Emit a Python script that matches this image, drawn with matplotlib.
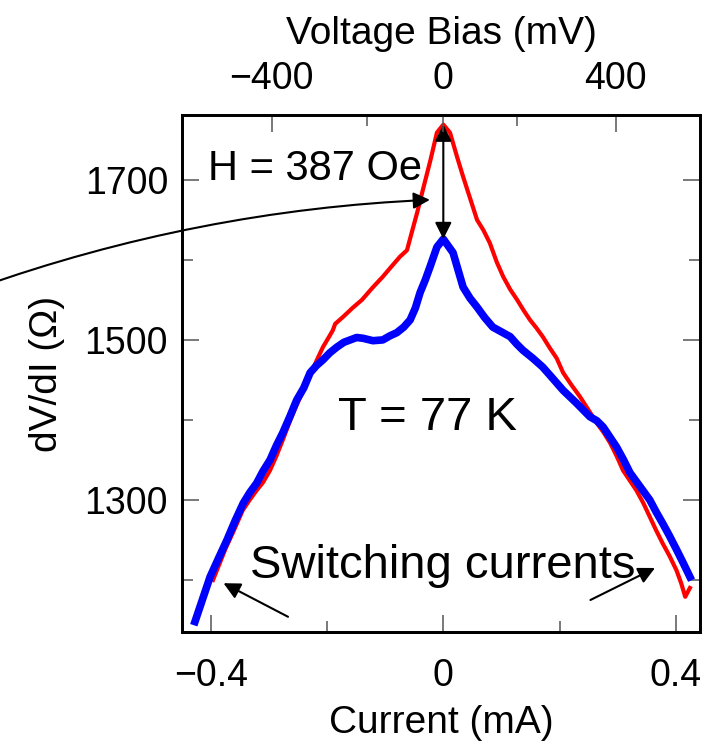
import matplotlib
matplotlib.use("Agg")
import matplotlib.pyplot as plt
from matplotlib.ticker import FixedLocator

plt.rcParams['font.family'] = ['Liberation Sans', 'DejaVu Sans']

# dV/dI traces vs. bias current (mA -> Ohm)
current_h = [-0.396, -0.385, -0.374, -0.360, -0.345, -0.333, -0.321, -0.310, -0.298, -0.287,
             -0.276, -0.264, -0.252, -0.240, -0.229, -0.218, -0.207, -0.198, -0.190, -0.186,
             -0.172, -0.156, -0.140, -0.122, -0.104, -0.090, -0.0745, -0.0625, -0.054, -0.045,
             -0.035, -0.022, -0.011, 0.0, 0.0115, 0.0235, 0.034, 0.046, 0.058, 0.069,
             0.080, 0.092, 0.103, 0.115, 0.127, 0.138, 0.149, 0.160, 0.171, 0.183,
             0.195, 0.206, 0.220, 0.235, 0.250, 0.264, 0.276, 0.287, 0.298, 0.309,
             0.320, 0.332, 0.344, 0.355, 0.366, 0.377, 0.389, 0.401, 0.409, 0.416, 0.424]
dvdi_h = [1200, 1220, 1240, 1262, 1287, 1300, 1312, 1322, 1337, 1355,
          1375, 1398, 1419, 1438, 1456, 1474, 1491, 1502, 1512, 1520,
          1529, 1540, 1550, 1565, 1579, 1591, 1604, 1612, 1635, 1659,
          1688, 1725, 1759, 1769, 1759, 1729, 1704, 1677, 1650, 1637,
          1621, 1597, 1579, 1563, 1550, 1537, 1525, 1515, 1504, 1490,
          1477, 1459, 1444, 1429, 1412, 1396, 1384, 1371, 1355, 1337,
          1325, 1312, 1296, 1279, 1262, 1246, 1230, 1212, 1196, 1179, 1190]

current_0 = [-0.427, -0.414, -0.401, -0.386, -0.372, -0.358, -0.344, -0.333, -0.321, -0.310,
             -0.298, -0.287, -0.276, -0.264, -0.252, -0.240, -0.229, -0.218, -0.207, -0.195,
             -0.183, -0.171, -0.160, -0.149, -0.138, -0.121, -0.104, -0.092, -0.080, -0.068,
             -0.057, -0.048, -0.040, -0.031, -0.023, -0.011, 0.0, 0.0167, 0.034, 0.046,
             0.058, 0.071, 0.085, 0.100, 0.115, 0.126, 0.137, 0.154, 0.171, 0.188,
             0.206, 0.229, 0.252, 0.264, 0.275, 0.287, 0.298, 0.310, 0.321, 0.338,
             0.355, 0.366, 0.377, 0.389, 0.401, 0.412, 0.424]
dvdi_0 = [1148, 1176, 1204, 1228, 1250, 1274, 1296, 1309, 1321, 1336,
          1350, 1368, 1384, 1404, 1425, 1440, 1459, 1468, 1475, 1484,
          1491, 1497, 1500, 1503, 1502, 1499, 1500, 1505, 1509, 1516,
          1525, 1540, 1559, 1575, 1591, 1616, 1626, 1609, 1566, 1552,
          1541, 1528, 1516, 1510, 1504, 1495, 1487, 1477, 1466, 1452,
          1437, 1421, 1404, 1399, 1391, 1378, 1366, 1350, 1334, 1317,
          1300, 1285, 1271, 1255, 1238, 1222, 1204]

# top axis: voltage bias ticks placed at the corresponding current
bias_mV = [-400, -200, 0, 200, 400]
bias_current = [-0.295, -0.131, 0.0, 0.127, 0.2965]

fig = plt.figure(figsize=(7.17, 7.43), dpi=100)
ax = fig.add_axes([0.2538, 0.1494, 0.7225, 0.6958])

ax.plot(current_h, dvdi_h, color='#ff0000', lw=3.0, solid_joinstyle='round', zorder=2)
ax.plot(current_0, dvdi_0, color='#0000ff', lw=5.5, solid_joinstyle='round', zorder=3)

ax.set_xlim(-0.4494, 0.4414)
ax.set_ylim(1135, 1781)

ax.xaxis.set_major_locator(FixedLocator([-0.4, 0.0, 0.4]))
ax.xaxis.set_minor_locator(FixedLocator([-0.2, 0.2]))
ax.set_xticklabels(['\u22120.4', '0', '0.4'])
ax.yaxis.set_major_locator(FixedLocator([1300, 1500, 1700]))
ax.yaxis.set_minor_locator(FixedLocator([1200, 1400, 1600]))

ax.tick_params(axis='both', which='major', direction='in', length=12, width=1.1,
               labelsize=27, pad=10, right=True, top=False, color='#555555')
ax.tick_params(axis='both', which='minor', direction='in', length=8, width=1.1,
               right=True, top=False, color='#555555')
ax.tick_params(axis='x', which='major', pad=19)
for s in ax.spines.values():
    s.set_linewidth(2.0)

ax.set_xlabel('Current (mA)', fontsize=28, labelpad=8)
ax.set_ylabel('dV/dI (\u03a9)', fontsize=28, labelpad=14)

top = ax.twiny()
top.set_xlim(ax.get_xlim())
top.xaxis.set_major_locator(FixedLocator([bias_current[0], bias_current[2], bias_current[4]]))
top.xaxis.set_minor_locator(FixedLocator([bias_current[1], bias_current[3]]))
top.set_xticklabels(['\u2212%d' % abs(bias_mV[0]), str(bias_mV[2]), str(bias_mV[4])])
top.tick_params(axis='x', which='major', direction='in', length=12, width=1.1,
                labelsize=27, pad=13, color='#555555')
top.tick_params(axis='x', which='minor', direction='in', length=8, width=1.1, color='#555555')
top.set_xlabel('Voltage Bias (mV)', fontsize=28, labelpad=12)
for s in top.spines.values():
    s.set_linewidth(2.0)

head = '-|>,head_length=1.0,head_width=0.5'

# arrow between the two peaks
ax.annotate('', xy=(0.0, dvdi_h[current_h.index(0.0)]), xytext=(0.0, dvdi_0[current_0.index(0.0)]),
            arrowprops=dict(arrowstyle='<|-|>,head_length=1.0,head_width=0.5', color='black',
                            lw=1.5, shrinkA=0, shrinkB=0), zorder=5)

# curved pointer to the field-cooled trace
ann = ax.annotate('', xy=(-0.023, 1675), xytext=(-0.80, 1565),
                  arrowprops=dict(arrowstyle=head, color='black',
                                  lw=1.5, shrinkA=0, shrinkB=0,
                                  connectionstyle='arc3,rad=-0.075'),
                  annotation_clip=False, zorder=5)
ann.arrow_patch.set_clip_on(False)

ax.text(-0.405, 1700, 'H = 387 Oe', fontsize=30, ha='left', va='baseline', zorder=6)
ax.text(-0.181, 1388, 'T = 77 K', fontsize=34, ha='left', va='baseline', zorder=6)
ax.text(-0.332, 1203, 'Switching currents', fontsize=34, ha='left', va='baseline', zorder=6)

# arrows marking the switching currents
ax.annotate('', xy=(-0.378, 1196), xytext=(-0.267, 1154),
            arrowprops=dict(arrowstyle=head, color='black', lw=1.5, shrinkA=0, shrinkB=0),
            zorder=5)
ax.annotate('', xy=(0.364, 1215), xytext=(0.253, 1175),
            arrowprops=dict(arrowstyle=head, color='black', lw=1.5, shrinkA=0, shrinkB=0),
            zorder=5)

fig.savefig('out.png', dpi=100)
